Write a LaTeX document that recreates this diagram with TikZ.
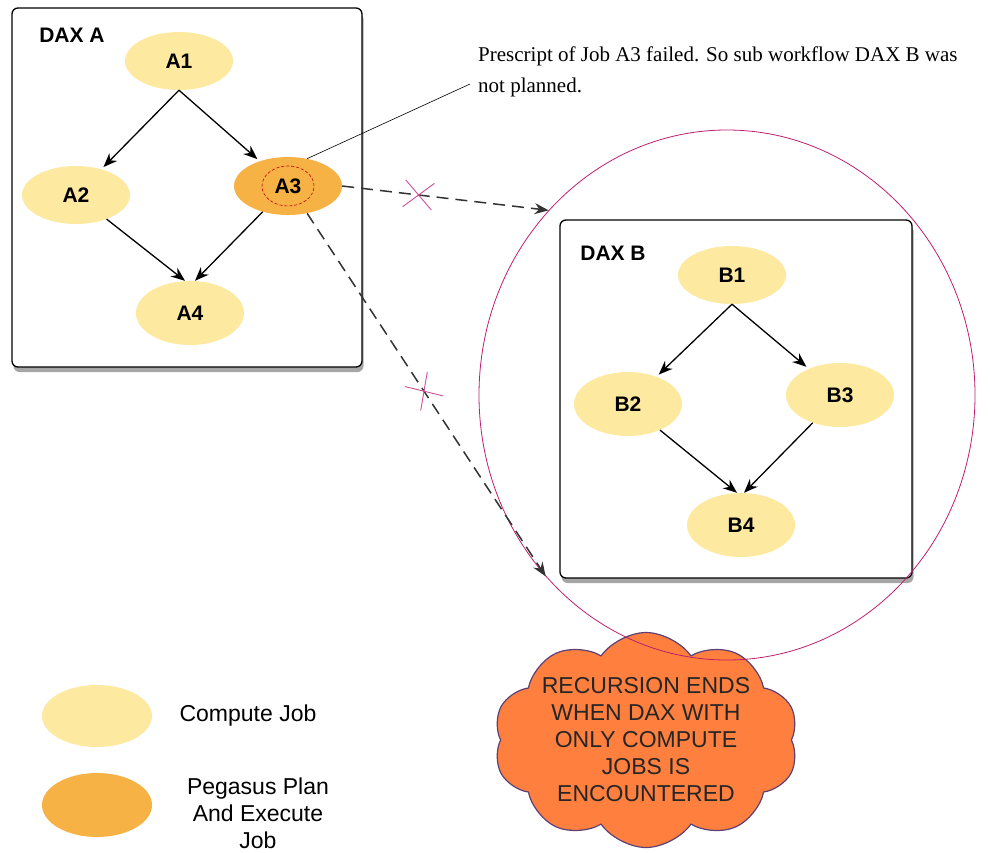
\documentclass[tikz,border=0pt]{standalone}
\usepackage{fontspec}
\setmainfont{Liberation Serif}
\newfontfamily\helv{Liberation Sans}
\usepackage{tikz}
\usetikzlibrary{arrows.meta}
\usetikzlibrary{shapes.geometric,shapes.symbols,shapes.misc}
\usetikzlibrary{shadows}
\definecolor{jobyellow}{RGB}{253,233,160}
\definecolor{joborange}{RGB}{247,178,70}
\definecolor{cloudorange}{RGB}{255,127,62}
\definecolor{cloudedge}{RGB}{92,64,120}
\definecolor{ringpink}{RGB}{190,30,110}
\definecolor{crosspink}{RGB}{205,80,150}
\def\jobw{108}
\def\jobh{58}

\begin{document}
\begin{tikzpicture}[	x=1pt, y=-1pt, >={Stealth[length=14pt,width=11pt]}, inner sep=0pt,
				daxbox/.style={draw=black,line width=1.3pt,rounded corners=6pt,fill=white,
					drop shadow={shadow xshift=1.5pt,shadow yshift=-5pt,opacity=0.7}},
				job/.style={ellipse,fill=#1,minimum width=\jobw,minimum height=\jobh,
					font=\helv\bfseries\fontsize{21}{24}\selectfont},
				title/.style={font=\helv\bfseries\fontsize{21}{24}\selectfont},
				dep/.style={->,line width=1.3pt},
				subwf/.style={->,line width=1.5pt,draw=black!80,dash pattern=on 12pt off 7pt},
				failed/.style={cross out,draw=crosspink,solid,line width=0.9pt,
					minimum width=28pt,minimum height=26pt,sloped},
				keytext/.style={font=\helv\fontsize{23}{27}\selectfont,align=center}]

	\useasboundingbox (0,0) rectangle (990,852);

	% DAX A
	\node[daxbox,minimum width=350,minimum height=359] (daxA) at (187,187.5) {};
	\node[title] (daxAlabel) at (72,35) {DAX A};
	\node[job=jobyellow] (A1) at (179,61) {A1};
	\node[job=jobyellow] (A2) at (76,195) {A2};
	\node[job=joborange] (A3) at (288,186) {A3};
	\node[ellipse,draw=red!75!black,densely dashed,line width=0.6pt,
		minimum width=52,minimum height=40] (A3ring) at (A3) {};
	\node[job=jobyellow,minimum height=64] (A4) at (190,313) {A4};

	\draw[dep,shorten >=3pt] (A1.south) -- (A2);
	\draw[dep,shorten >=3pt] (A1.south) -- (A3);
	\draw[dep] (A2) -- ([xshift=-5pt]A4.north);
	\draw[dep] (A3) -- ([xshift=5pt]A4.north);

	% DAX B
	\node[daxbox,minimum width=352,minimum height=358] (daxB) at (736,399) {};
	\node[title] (daxBlabel) at (613,253) {DAX B};
	\node[job=jobyellow] (B1) at (732,275) {B1};
	\node[job=jobyellow,minimum height=64] (B2) at (628,404) {B2};
	\node[job=jobyellow,minimum height=64] (B3) at (840,395) {B3};
	\node[job=jobyellow,minimum height=64] (B4) at (741,525) {B4};

	\draw[dep,shorten >=3pt] (B1.south) -- (B2);
	\draw[dep,shorten >=3pt] (B1.south) -- (B3);
	\draw[dep] (B2) -- ([xshift=-4pt]B4.north);
	\draw[dep] (B3) -- ([xshift=3pt]B4.north);

	% Recursion end
	\node[cloud,cloud puffs=10,cloud puff arc=110,cloud ignores aspect,draw=cloudedge,fill=cloudorange,
		line width=1.2pt,minimum width=305,minimum height=215,inner xsep=-6pt,inner ysep=-24pt,
		align=center,text=black!85,font=\helv\fontsize{23}{27}\selectfont] (stop) at (646,740)
		{RECURSION ENDS\\WHEN DAX WITH\\ONLY COMPUTE\\JOBS IS\\ENCOUNTERED};

	% Sub workflow ring
	\node[ellipse,draw=ringpink,line width=0.8pt,minimum width=496,minimum height=530] (ring) at (727,395) {};

	\draw[subwf] (A3.east) -- node[failed,pos=0.37] (cut1) {} (ring.134);
	\draw[subwf] (A3.305) -- node[failed,pos=0.49] (cut2) {} (ring.225);

	% Note
	\node[anchor=west,align=left,font=\fontsize{21}{31}\selectfont] (note) at (478,72)
		{Prescript of Job A3 failed. So sub workflow DAX B was\\not planned.};
	\coordinate (noteend) at (470,84);
	\draw[line width=0.6pt] (A3.55) -- (noteend);

	% Legend
	\node[job=jobyellow,minimum width=110,minimum height=62] (keyA) at (97,716) {};
	\node[keytext] (keyAtext) at (248,716) {Compute Job};
	\node[job=joborange,minimum width=110,minimum height=64] (keyB) at (97,805) {};
	\node[keytext] (keyBtext) at (258,813) {Pegasus Plan\\And Execute\\Job};

\end{tikzpicture}
\end{document}
